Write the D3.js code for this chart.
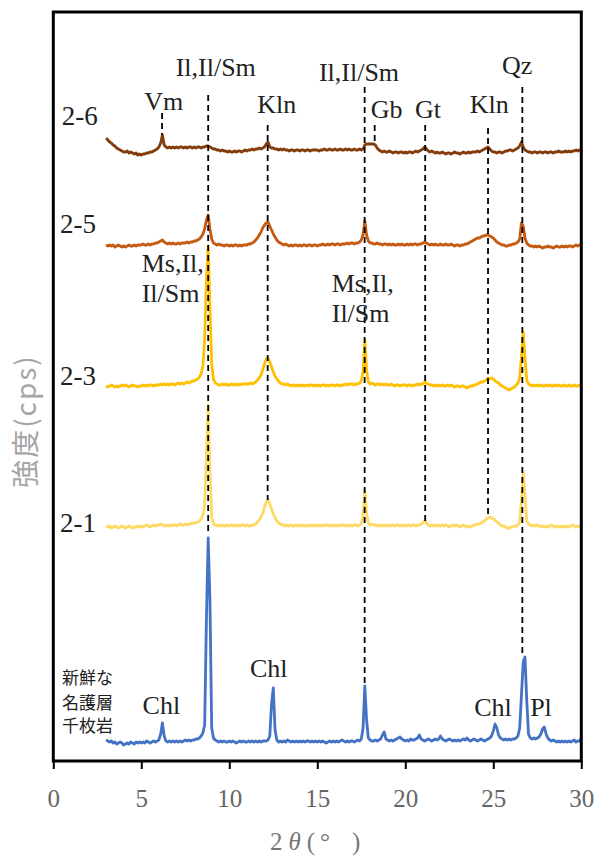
<!DOCTYPE html>
<html>
<head>
<meta charset="utf-8">
<script src="https://cdn.jsdelivr.net/npm/d3@7"></script>
<style>
  body { margin: 0; background: #ffffff; }
</style>
</head>
<body>
<div id="container"></div>
<script>
let w = 597;
let h = 856;

// measurement grid of the diffractometer (2theta, degrees)
let twoThetaStart = 3.0;
let twoThetaStep = 0.1;

// intensities, one value per 0.1 deg from 3.0 to 30.0 (rows = one degree)
let fresh = [
  10, 9, 8, 9, 7, 8, 6, 7, 8, 7,
  5, 6, 7, 6, 8, 7, 6, 8, 7, 8,
  7, 8, 7, 9, 8, 7, 8, 9, 8, 9,
  10, 16, 27, 14, 9, 8, 9, 8, 9, 8,
  9, 8, 9, 8, 9, 10, 9, 10, 9, 10,
  10, 11, 11, 12, 14, 17, 25, 130, 212, 150,
  22, 12, 10, 9, 8, 9, 8, 9, 8, 8,
  9, 8, 9, 8, 7, 8, 9, 8, 9, 8,
  8, 9, 8, 9, 8, 9, 8, 9, 8, 9,
  9, 9, 10, 14, 46, 62, 20, 10, 8, 9,
  8, 9, 8, 10, 9, 8, 9, 8, 9, 8,
  9, 8, 9, 8, 9, 9, 8, 9, 8, 9,
  8, 9, 8, 9, 8, 7, 8, 9, 8, 9,
  8, 9, 8, 9, 10, 9, 8, 9, 8, 9,
  9, 8, 9, 10, 9, 11, 22, 64, 30, 12,
  10, 9, 9, 10, 9, 10, 11, 15, 18, 11,
  10, 9, 10, 9, 10, 11, 12, 13, 11, 10,
  9, 10, 9, 11, 10, 10, 11, 12, 15, 11,
  10, 9, 10, 11, 10, 9, 10, 11, 10, 11,
  14, 11, 10, 9, 10, 11, 10, 9, 10, 9,
  10, 9, 10, 11, 10, 12, 10, 9, 10, 11,
  10, 9, 10, 11, 10, 9, 10, 11, 12, 14,
  19, 26, 22, 15, 12, 11, 10, 11, 10, 11,
  10, 11, 11, 12, 14, 22, 55, 88, 93, 50,
  16, 12, 11, 12, 11, 12, 13, 16, 21, 23,
  16, 12, 10, 9, 10, 9, 8, 9, 8, 9,
  8, 9, 8, 9, 8, 9, 10, 8, 9, 9,
  12
];

let s21 = [
  9, 8, 9, 7, 8, 9, 8, 7, 8, 9,
  8, 7, 8, 9, 8, 7, 8, 8, 9, 8,
  9, 8, 9, 10, 9, 8, 9, 10, 9, 10,
  10, 11, 10, 9, 10, 9, 10, 9, 10, 10,
  9, 10, 11, 10, 10, 11, 10, 11, 11, 12,
  12, 12, 13, 14, 16, 20, 30, 80, 130, 66,
  18, 11, 10, 9, 10, 9, 10, 9, 9, 10,
  9, 10, 9, 10, 9, 10, 9, 10, 10, 9,
  10, 9, 9, 10, 10, 11, 13, 15, 18, 22,
  28, 33, 35, 31, 26, 21, 17, 14, 12, 11,
  10, 10, 9, 10, 9, 10, 9, 9, 10, 9,
  10, 9, 10, 9, 9, 10, 9, 10, 9, 10,
  9, 10, 9, 10, 9, 10, 10, 9, 10, 9,
  10, 9, 10, 9, 10, 10, 9, 10, 9, 10,
  9, 10, 10, 9, 10, 11, 20, 45, 22, 12,
  10, 11, 10, 10, 9, 10, 9, 10, 9, 10,
  9, 10, 9, 10, 9, 10, 10, 9, 10, 9,
  10, 9, 10, 9, 10, 10, 9, 10, 10, 11,
  12, 15, 12, 10, 9, 10, 9, 10, 9, 10,
  9, 10, 9, 10, 9, 8, 9, 10, 9, 10,
  9, 8, 9, 10, 9, 8, 9, 8, 9, 10,
  10, 11, 11, 12, 13, 14, 16, 17, 18, 17,
  16, 15, 13, 12, 10, 9, 9, 8, 7, 7,
  8, 8, 9, 9, 10, 13, 35, 63, 40, 14,
  11, 10, 9, 10, 9, 10, 9, 8, 9, 8,
  9, 8, 9, 10, 9, 8, 9, 8, 9, 8,
  9, 8, 9, 8, 9, 10, 9, 8, 9, 8,
  8
];

let s23 = [
  8, 7, 8, 9, 8, 7, 8, 7, 8, 9,
  8, 9, 8, 7, 8, 9, 8, 8, 7, 8,
  8, 9, 8, 9, 8, 9, 9, 8, 9, 9,
  9, 10, 9, 10, 9, 10, 9, 10, 10, 9,
  10, 11, 10, 11, 10, 11, 12, 11, 12, 13,
  13, 14, 15, 17, 20, 28, 55, 115, 148, 88,
  30, 15, 11, 10, 9, 9, 10, 9, 10, 9,
  9, 10, 9, 10, 9, 10, 9, 10, 10, 10,
  10, 10, 11, 10, 11, 12, 14, 16, 19, 24,
  30, 35, 36, 32, 27, 22, 18, 15, 13, 11,
  10, 10, 9, 10, 9, 8, 9, 8, 9, 8,
  9, 8, 9, 8, 9, 8, 9, 9, 8, 9,
  8, 9, 8, 9, 9, 8, 9, 8, 9, 9,
  8, 9, 9, 8, 9, 9, 10, 9, 10, 10,
  10, 9, 10, 10, 11, 13, 22, 54, 24, 12,
  10, 11, 10, 9, 10, 10, 9, 10, 9, 10,
  9, 9, 10, 9, 8, 9, 9, 8, 9, 9,
  9, 8, 9, 9, 8, 9, 9, 10, 9, 10,
  10, 12, 11, 10, 9, 9, 8, 9, 8, 9,
  8, 9, 8, 8, 9, 8, 9, 8, 7, 8,
  8, 7, 8, 8, 7, 6, 7, 8, 8, 9,
  9, 10, 11, 12, 12, 13, 14, 16, 15, 16,
  15, 13, 12, 11, 9, 8, 7, 6, 5, 4,
  5, 6, 7, 9, 11, 16, 38, 62, 36, 14,
  10, 9, 8, 9, 8, 9, 8, 9, 8, 8,
  9, 8, 9, 8, 8, 9, 8, 9, 8, 8,
  9, 8, 8, 9, 8, 8, 9, 8, 8, 9,
  7
];

let s25 = [
  8, 7, 8, 7, 8, 6, 7, 8, 7, 6,
  7, 6, 7, 8, 7, 7, 8, 7, 8, 8,
  8, 9, 8, 8, 9, 8, 9, 9, 10, 10,
  11, 12, 13, 11, 10, 9, 10, 9, 10, 9,
  9, 10, 9, 10, 10, 10, 11, 10, 11, 11,
  12, 12, 13, 14, 16, 19, 24, 33, 38, 24,
  14, 10, 9, 8, 9, 8, 8, 7, 8, 8,
  7, 8, 7, 8, 8, 7, 8, 7, 8, 8,
  8, 9, 9, 10, 11, 13, 15, 18, 21, 25,
  28, 30, 31, 27, 23, 19, 16, 13, 11, 10,
  9, 8, 9, 8, 7, 8, 7, 8, 8, 7,
  8, 7, 8, 8, 7, 8, 8, 7, 8, 8,
  7, 8, 8, 9, 8, 8, 9, 8, 9, 9,
  8, 9, 9, 8, 9, 9, 9, 10, 9, 10,
  10, 9, 10, 10, 11, 13, 18, 32, 18, 12,
  10, 10, 9, 9, 10, 9, 9, 8, 9, 9,
  8, 9, 8, 9, 8, 8, 9, 8, 9, 8,
  8, 9, 8, 9, 8, 9, 9, 8, 9, 9,
  10, 11, 10, 9, 8, 9, 8, 9, 8, 8,
  9, 8, 8, 9, 8, 8, 9, 8, 7, 8,
  8, 7, 8, 8, 9, 9, 10, 11, 12, 13,
  14, 15, 15, 16, 17, 17, 18, 18, 17, 16,
  15, 13, 11, 10, 9, 8, 8, 7, 7, 8,
  8, 9, 9, 10, 11, 14, 30, 27, 15, 10,
  8, 7, 7, 6, 7, 6, 7, 6, 5, 6,
  6, 7, 6, 6, 5, 6, 7, 6, 6, 7,
  6, 7, 6, 7, 7, 6, 7, 8, 7, 8,
  8
];

let s26 = [
  20, 18, 16, 15, 13, 12, 10, 9, 8, 7,
  6, 6, 7, 5, 6, 5, 4, 5, 3, 4,
  3, 4, 4, 5, 5, 6, 6, 7, 8, 9,
  11, 15, 23, 13, 11, 10, 11, 10, 11, 10,
  11, 10, 11, 11, 10, 11, 10, 11, 11, 10,
  11, 10, 11, 11, 10, 11, 11, 12, 12, 11,
  10, 9, 9, 8, 8, 7, 8, 7, 7, 6,
  7, 6, 6, 7, 6, 7, 7, 6, 7, 8,
  7, 8, 8, 9, 8, 9, 9, 10, 9, 10,
  11, 14, 16, 11, 10, 10, 9, 9, 8, 9,
  8, 9, 8, 8, 7, 8, 8, 7, 8, 8,
  7, 8, 8, 7, 8, 8, 7, 8, 8, 8,
  8, 7, 8, 8, 9, 8, 8, 9, 8, 8,
  9, 8, 8, 9, 8, 8, 9, 8, 9, 8,
  8, 9, 8, 8, 9, 8, 9, 13, 14, 14,
  14, 14, 14, 13, 10, 8, 7, 6, 7, 6,
  6, 7, 6, 5, 6, 6, 5, 6, 6, 5,
  6, 5, 6, 6, 5, 6, 7, 6, 7, 8,
  9, 11, 9, 7, 6, 7, 6, 5, 6, 5,
  5, 6, 5, 4, 5, 5, 4, 5, 6, 5,
  5, 4, 5, 6, 5, 5, 6, 5, 6, 6,
  6, 7, 6, 7, 8, 9, 10, 11, 9, 7,
  6, 6, 5, 6, 6, 5, 6, 7, 7, 8,
  8, 7, 8, 9, 10, 12, 16, 11, 8, 7,
  6, 6, 5, 6, 6, 5, 6, 6, 5, 6,
  6, 5, 6, 6, 5, 6, 6, 7, 6, 6,
  6, 7, 6, 7, 6, 7, 7, 8, 7, 8,
  8
];

// stacking: series, their vertical offsets and colours (bottom to top)
let seriesNames = ["fresh", "2-1", "2-3", "2-5", "2-6"];
let seriesValues = [fresh, s21, s23, s25, s26];
let seriesOffsets = [11, 226, 367, 508, 603];
let seriesColors = ["#4472C4", "#FFD966", "#FFC000", "#C55A11", "#843C0C"];

// sample names written left of each trace: [text, 2theta, intensity]
let sampleLabels = [
  ["2-6", 0.48, 636],
  ["2-5", 0.38, 528],
  ["2-3", 0.38, 376],
  ["2-1", 0.38, 229]
];
let freshLabel = [["新鮮な", 0.5, 77], ["名護層", 0.5, 52], ["千枚岩", 0.5, 29]];

// peak markers: [2theta, top intensity, bottom intensity]
let peakLines = [
  [6.18, 648, 626],
  [8.8, 666, 226],
  [12.18, 636, 261],
  [17.69, 674, 75],
  [18.26, 636, 616],
  [21.13, 636, 238],
  [24.7, 633, 244],
  [26.65, 674, 104]
];

// mineral names: [text, 2theta, intensity, anchor]
let mineralLabels = [
  ["Vm", 6.27, 651, "middle"],
  ["Il,Il/Sm", 9.23, 685, "middle"],
  ["Kln", 12.69, 648, "middle"],
  ["Il,Il/Sm", 17.37, 680, "middle"],
  ["Gb", 18.94, 643, "middle"],
  ["Gt", 21.29, 643, "middle"],
  ["Kln", 24.77, 648, "middle"],
  ["Qz", 26.36, 687, "middle"],
  ["Ms,Il,", 5.02, 489, "start"],
  ["Il/Sm", 5.02, 459, "start"],
  ["Ms,Il,", 15.82, 469, "start"],
  ["Il/Sm", 15.82, 439, "start"],
  ["Chl", 6.14, 47, "middle"],
  ["Chl", 12.24, 84, "middle"],
  ["Chl", 24.98, 45, "middle"],
  ["Pl", 27.71, 45, "middle"]
];

let xTicks = [0, 5, 10, 15, 20, 25, 30];

let plotLeft = 53.3, plotRight = 581.3, plotTop = 12, plotBottom = 761;

let viz = d3.select("#container")
  .append("svg")
    .attr("width", w)
    .attr("height", h)
    .style("background-color", "#ffffff");

let xScale = d3.scaleLinear().domain([0, 30]).range([plotLeft, plotRight]);
let yScale = d3.scaleLinear().domain([0, 749]).range([plotBottom, plotTop]);

// traces
let line = d3.line()
  .x(function(d){ return xScale(d[0]); })
  .y(function(d){ return yScale(d[1]); });

seriesValues.forEach(function(values, k){
  let pts = values.map(function(v, i){
    return [twoThetaStart + i * twoThetaStep, v + seriesOffsets[k]];
  });
  viz.append("path")
    .datum(pts)
    .attr("class", "trace s" + k)
    .attr("fill", "none")
    .attr("stroke", seriesColors[k])
    .attr("stroke-width", 2.8)
    .attr("stroke-linejoin", "round")
    .attr("d", line);
});

// dashed peak lines
viz.selectAll(".peakline").data(peakLines).enter()
  .append("line")
    .attr("class", "peakline")
    .attr("x1", function(d){ return xScale(d[0]); })
    .attr("x2", function(d){ return xScale(d[0]); })
    .attr("y1", function(d){ return yScale(d[1]); })
    .attr("y2", function(d){ return yScale(d[2]); })
    .attr("stroke", "#000")
    .attr("stroke-width", 1.8)
    .attr("stroke-dasharray", "6,4");

// mineral labels
viz.selectAll(".mineral").data(mineralLabels).enter()
  .append("text")
    .attr("class", "mineral")
    .attr("x", function(d){ return xScale(d[1]); })
    .attr("y", function(d){ return yScale(d[2]); })
    .attr("text-anchor", function(d){ return d[3]; })
    .style("font-family", "'Liberation Serif', 'Times New Roman', serif")
    .style("font-size", "26px")
    .style("fill", "#222")
    .text(function(d){ return d[0]; });

// sample labels
viz.selectAll(".sample").data(sampleLabels).enter()
  .append("text")
    .attr("class", "sample")
    .attr("x", function(d){ return xScale(d[1]); })
    .attr("y", function(d){ return yScale(d[2]); })
    .style("font-family", "'Liberation Serif', 'Times New Roman', serif")
    .style("font-size", "27px")
    .style("fill", "#222")
    .text(function(d){ return d[0]; });

viz.selectAll(".freshlabel").data(freshLabel).enter()
  .append("text")
    .attr("class", "freshlabel")
    .attr("x", function(d){ return xScale(d[1]); })
    .attr("y", function(d){ return yScale(d[2]); })
    .style("font-family", "'Noto Sans CJK JP', sans-serif")
    .style("font-size", "17px")
    .style("fill", "#222")
    .text(function(d){ return d[0]; });

// x axis
let xAxis = d3.axisBottom(xScale).tickValues(xTicks).tickSize(8).tickPadding(20);
let xAxisGroup = viz.append("g").attr("class", "xaxis")
  .attr("transform", "translate(0," + plotBottom + ")")
  .call(xAxis);
xAxisGroup.select(".domain").remove();
xAxisGroup.selectAll("line").attr("stroke", "#000").attr("stroke-width", 2);
xAxisGroup.selectAll("text")
  .style("font-family", "'Liberation Serif', 'Times New Roman', serif")
  .style("font-size", "25px")
  .style("fill", "#666");

// frame
viz.append("rect")
  .attr("x", plotLeft)
  .attr("y", plotTop)
  .attr("width", plotRight - plotLeft)
  .attr("height", plotBottom - plotTop)
  .attr("fill", "none")
  .attr("stroke", "#000")
  .attr("stroke-width", 3);

// axis titles
let xTitle = viz.append("text")
  .attr("x", 270)
  .attr("y", 850)
  .style("font-family", "'Liberation Serif', 'Times New Roman', serif")
  .style("font-size", "25px")
  .style("fill", "#777");
xTitle.append("tspan").text("2");
xTitle.append("tspan").attr("dx", 6).style("font-style", "italic").text("θ");
xTitle.append("tspan").attr("dx", 6).text("(");
xTitle.append("tspan").attr("dx", 5).text("°");
xTitle.append("tspan").attr("dx", 22).text(")");

viz.append("text")
  .attr("transform", "translate(36,421) rotate(-90)")
  .attr("text-anchor", "middle")
  .style("font-family", "'Noto Sans CJK JP', sans-serif")
  .style("font-size", "28px")
  .style("letter-spacing", "2px")
  .style("fill", "#a6a6a6")
  .text("強度(cps)");
</script>
</body>
</html>
